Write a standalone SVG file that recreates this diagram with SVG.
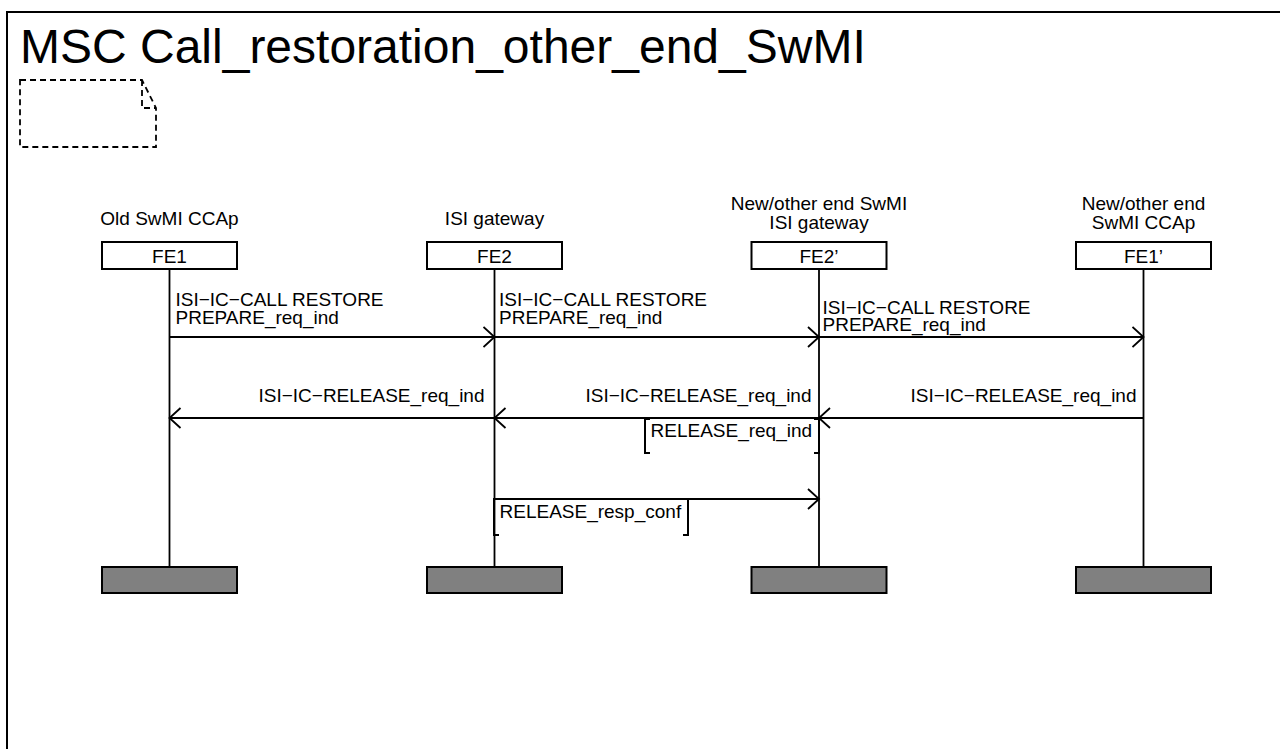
<svg xmlns="http://www.w3.org/2000/svg" width="1280" height="749" viewBox="0 0 1280 749">
<style>
  text { font-family: "Liberation Sans", Arial, sans-serif; fill: #000; }
  .t { font-size: 19px; }
  .title { font-size: 48px; }
  .c { text-anchor: middle; }
  .e { text-anchor: end; }
  .line { stroke: #000; stroke-width: 1.8; fill: none; }
  .head { fill: #fff; stroke: #000; stroke-width: 2; }
  .end { fill: #808080; stroke: #000; stroke-width: 2; }
  .br { stroke: #000; stroke-width: 2; fill: none; }
</style>
<defs>
  <marker id="arr" markerWidth="14" markerHeight="24" refX="12" refY="11" orient="auto" markerUnits="userSpaceOnUse">
    <path d="M1,1 L12,11 L1,21" fill="none" stroke="#000" stroke-width="1.8"/>
  </marker>
</defs>
<rect x="7" y="12" width="1300" height="800" fill="#fff" stroke="#000" stroke-width="2"/>
<text class="title" x="20" y="63">MSC Call_restoration_other_end_SwMI</text>
<g id="note">
  <path d="M20,80 H142 L156,108 V147 H20 Z M142,80 V108 H156" fill="none" stroke="#000" stroke-width="1.8" stroke-dasharray="6,4"/>
</g>
<g id="FE1">
  <text class="t c" x="169.5" y="225">Old SwMI CCAp</text>
  <rect class="head" x="102" y="242" width="135" height="27"/>
  <text class="t c" x="169.5" y="263">FE1</text>
  <line class="line" x1="169.5" y1="269" x2="169.5" y2="567"/>
  <rect class="end" x="102" y="567" width="135" height="26"/>
</g>
<g id="FE2">
  <text class="t c" x="494.5" y="225">ISI gateway</text>
  <rect class="head" x="427" y="242" width="135" height="27"/>
  <text class="t c" x="494.5" y="263">FE2</text>
  <line class="line" x1="494.5" y1="269" x2="494.5" y2="567"/>
  <rect class="end" x="427" y="567" width="135" height="26"/>
</g>
<g id="FE2p">
  <text class="t c" x="819" y="210">New/other end SwMI</text>
  <text class="t c" x="819" y="229">ISI gateway</text>
  <rect class="head" x="751.5" y="242" width="135" height="27"/>
  <text class="t c" x="819" y="263">FE2’</text>
  <line class="line" x1="819" y1="269" x2="819" y2="567"/>
  <rect class="end" x="751.5" y="567" width="135" height="26"/>
</g>
<g id="FE1p">
  <text class="t c" x="1143.5" y="210">New/other end</text>
  <text class="t c" x="1143.5" y="229">SwMI CCAp</text>
  <rect class="head" x="1076" y="242" width="135" height="27"/>
  <text class="t c" x="1143.5" y="263">FE1’</text>
  <line class="line" x1="1143.5" y1="269" x2="1143.5" y2="567"/>
  <rect class="end" x="1076" y="567" width="135" height="26"/>
</g>
<g id="connectors">
  <line class="line" x1="169.5" y1="337" x2="494.5" y2="337" marker-end="url(#arr)"/>
  <text class="t" x="175.5" y="306">ISI−IC−CALL RESTORE</text>
  <text class="t" x="175.5" y="324">PREPARE_req_ind</text>

  <line class="line" x1="494.5" y1="337" x2="819" y2="337" marker-end="url(#arr)"/>
  <text class="t" x="499" y="306">ISI−IC−CALL RESTORE</text>
  <text class="t" x="499" y="324">PREPARE_req_ind</text>

  <line class="line" x1="819" y1="337" x2="1143.5" y2="337" marker-end="url(#arr)"/>
  <text class="t" x="822.5" y="314">ISI−IC−CALL RESTORE</text>
  <text class="t" x="822.5" y="331">PREPARE_req_ind</text>

  <line class="line" x1="1143.5" y1="418" x2="819" y2="418" marker-end="url(#arr)"/>
  <text class="t e" x="1136.5" y="402">ISI−IC−RELEASE_req_ind</text>

  <line class="line" x1="819" y1="418" x2="494.5" y2="418" marker-end="url(#arr)"/>
  <text class="t e" x="811.5" y="402">ISI−IC−RELEASE_req_ind</text>

  <line class="line" x1="494.5" y1="418" x2="169.5" y2="418" marker-end="url(#arr)"/>
  <text class="t e" x="484.5" y="402">ISI−IC−RELEASE_req_ind</text>

  <path class="br" d="M650,419 H645 V453 H650 M814,419 H819 V453 H814"/>
  <text class="t" x="650.5" y="437">RELEASE_req_ind</text>

  <line class="line" x1="494.5" y1="499" x2="819" y2="499" marker-end="url(#arr)"/>
  <path class="br" d="M499,499 H494 V535 H499 M683,499 H688 V535 H683"/>
  <text class="t" x="499.5" y="518">RELEASE_resp_conf</text>
</g>
</svg>
